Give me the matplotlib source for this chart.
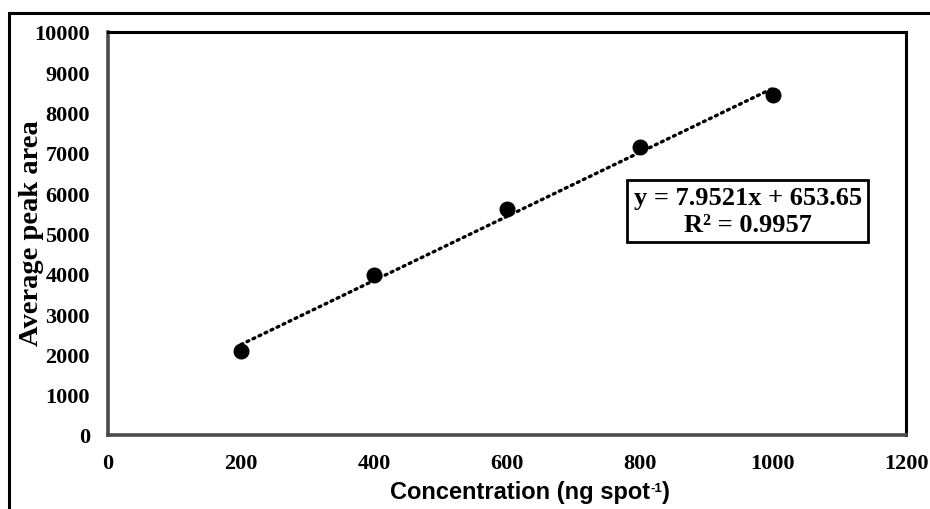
import numpy as np
import matplotlib
matplotlib.use("Agg")
import matplotlib.pyplot as plt
from matplotlib.patches import Rectangle

# Data
concentration = [200, 400, 600, 800, 1000]
peak_area = [2090, 3960, 5600, 7140, 8440]
slope = 7.9521
intercept = 653.65
r_squared = 0.9957
x_ticks = [0, 200, 400, 600, 800, 1000, 1200]
y_ticks = [0, 1000, 2000, 3000, 4000, 5000, 6000, 7000, 8000, 9000, 10000]

W, H = 930, 510
fig = plt.figure(figsize=(W / 100, H / 100), dpi=100)

# outer frame (cropped on right and bottom)
fig.patches.append(Rectangle((9 / W, -0.1), 1.2, 1 - 14 / H + 0.1, transform=fig.transFigure,
                             fill=False, edgecolor="black", linewidth=2.2))

ax = fig.add_axes([108 / W, 1 - 436 / H, (906 - 108) / W, (436 - 33) / H])
ax.set_xlim(0, 1200)
ax.set_ylim(0, 10000)

serif = "Liberation Serif"
ax.set_xticks(x_ticks)
ax.set_yticks(y_ticks)
ax.set_xticklabels([str(t) for t in x_ticks], fontfamily=serif, fontweight="bold", fontsize=16)
ax.set_yticklabels([str(t) for t in y_ticks], fontfamily=serif, fontweight="bold", fontsize=16)
ax.tick_params(axis="x", length=0, pad=13)
ax.tick_params(axis="y", length=0, pad=13)

for side in ["left", "bottom"]:
    ax.spines[side].set_color("#4a4a4a")
    ax.spines[side].set_linewidth(2.6)
for side in ["top", "right"]:
    ax.spines[side].set_color("black")
    ax.spines[side].set_linewidth(2.2)

# trendline
xs = np.array([min(concentration), max(concentration)])
ax.plot(xs, slope * xs + intercept, linestyle=(0, (0.6, 1.4)), color="black",
        linewidth=2.4, dash_capstyle="round", zorder=2)
ax.plot(concentration, peak_area, "o", color="black", markersize=10.5, zorder=3)

ax.text(962, 5558, f"y = {slope}x + {intercept}\nR\u00b2 = {r_squared}",
        ha="center", va="center", fontfamily=serif, fontweight="bold", fontsize=19,
        linespacing=1.22,
        bbox=dict(boxstyle="square,pad=0.24", facecolor="white", edgecolor="black", linewidth=2))

fig.text(31 / W, 1 - 233 / H, "Average peak area", rotation=90, ha="center", va="center",
         fontfamily=serif, fontweight="bold", fontsize=20.5)

sans = "Liberation Sans"
t1 = fig.text(390 / W, 1 - 493 / H, "Concentration (ng spot", ha="left", va="center",
              fontfamily=sans, fontweight="bold", fontsize=17)
t2 = ax.annotate("-1", xy=(1, 0.93), xycoords=t1, ha="left", va="top",
                 fontfamily=sans, fontweight="bold", fontsize=9.5, annotation_clip=False)
t3 = ax.annotate(")", xy=(1, 0), xycoords=(t2, t1), ha="left", va="bottom",
                 fontfamily=sans, fontweight="bold", fontsize=17, annotation_clip=False)

fig.savefig("out.png", dpi=100)
